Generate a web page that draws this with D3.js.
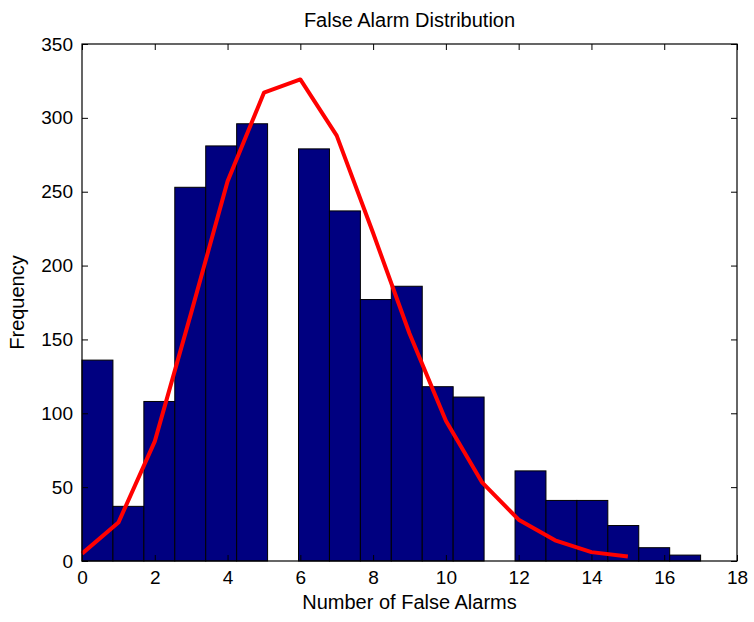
<!DOCTYPE html>
<html lang="en">
<head>
  <meta charset="UTF-8">
  <script src="https://d3js.org/d3.v7.min.js"></script>
  <title>False Alarm Distribution</title>
  <style>
    body { margin: 0; background: #fff; }
    text { font-family: "Liberation Sans", Arial, sans-serif; fill: #000; }
  </style>
</head>
<body>
  <div id="chart"></div>
  <script>
    // histogram: 20 bins spanning 0..17
    const binStart = 0;
    const binEnd = 17;
    const counts = [136, 37, 108, 253, 281, 296, 0, 279, 237, 177, 186, 118, 111, 0, 61, 41, 41, 24, 9, 4];

    // fitted curve
    const fitX = [0, 1, 2, 3, 4, 5, 6, 7, 8, 9, 10, 11, 12, 13, 14, 15];
    const fitY = [5, 26, 81, 168, 257, 317, 326, 288, 222, 154, 95, 53, 28, 14, 6, 3];

    const xTicks = [0, 2, 4, 6, 8, 10, 12, 14, 16, 18];
    const yTicks = [0, 50, 100, 150, 200, 250, 300, 350];

    const W = 754, H = 622;
    const m = { top: 44, right: 17, bottom: 61, left: 82 };
    const iw = W - m.left - m.right;
    const ih = H - m.top - m.bottom;

    const svg = d3.select('#chart').append('svg')
      .attr('width', W)
      .attr('height', H);

    const g = svg.append('g').attr('transform', `translate(${m.left},${m.top})`);

    const x = d3.scaleLinear().domain([0, 18]).range([0, iw]);
    const y = d3.scaleLinear().domain([0, 350]).range([ih, 0]);

    const bw = (binEnd - binStart) / counts.length;
    const bins = counts.map((c, i) => ({ x0: binStart + i * bw, x1: binStart + (i + 1) * bw, c }));

    g.selectAll('rect.bar')
      .data(bins.filter(d => d.c > 0))
      .enter()
      .append('rect')
      .attr('class', 'bar')
      .attr('x', d => x(d.x0))
      .attr('width', d => x(d.x1) - x(d.x0))
      .attr('y', d => y(d.c))
      .attr('height', d => y(0) - y(d.c))
      .attr('fill', '#000080')
      .attr('stroke', '#000')
      .attr('stroke-width', 1);

    const line = d3.line()
      .x((d, i) => x(fitX[i]))
      .y(d => y(d));

    g.append('path')
      .datum(fitY)
      .attr('d', line)
      .attr('fill', 'none')
      .attr('stroke', '#ff0000')
      .attr('stroke-width', 4)
      .attr('stroke-linejoin', 'round');

    // axes, ticks pointing inward on all four sides
    const tl = 6;
    const axisStyle = sel => {
      sel.select('.domain').remove();
      sel.selectAll('.tick line').attr('stroke', '#000');
      sel.selectAll('.tick text').style('font-size', '19px');
    };

    g.append('g')
      .attr('transform', `translate(0,${ih})`)
      .call(d3.axisBottom(x).tickValues(xTicks).tickSizeInner(-tl).tickSizeOuter(0).tickPadding(10))
      .call(axisStyle);

    g.append('g')
      .call(d3.axisTop(x).tickValues(xTicks).tickSizeInner(-tl).tickSizeOuter(0).tickFormat(''))
      .call(axisStyle);

    g.append('g')
      .call(d3.axisLeft(y).tickValues(yTicks).tickSizeInner(-tl).tickSizeOuter(0).tickPadding(9))
      .call(axisStyle);

    g.append('g')
      .attr('transform', `translate(${iw},0)`)
      .call(d3.axisRight(y).tickValues(yTicks).tickSizeInner(-tl).tickSizeOuter(0).tickFormat(''))
      .call(axisStyle);

    g.append('rect')
      .attr('width', iw)
      .attr('height', ih)
      .attr('fill', 'none')
      .attr('stroke', '#000')
      .attr('stroke-width', 1.2);

    svg.append('text')
      .attr('x', m.left + iw / 2)
      .attr('y', 27)
      .attr('text-anchor', 'middle')
      .style('font-size', '20px')
      .text('False Alarm Distribution');

    svg.append('text')
      .attr('x', m.left + iw / 2)
      .attr('y', 609)
      .attr('text-anchor', 'middle')
      .style('font-size', '20px')
      .text('Number of False Alarms');

    svg.append('text')
      .attr('transform', `translate(24,${m.top + ih / 2}) rotate(-90)`)
      .attr('text-anchor', 'middle')
      .style('font-size', '20px')
      .text('Frequency');
  </script>
</body>
</html>
